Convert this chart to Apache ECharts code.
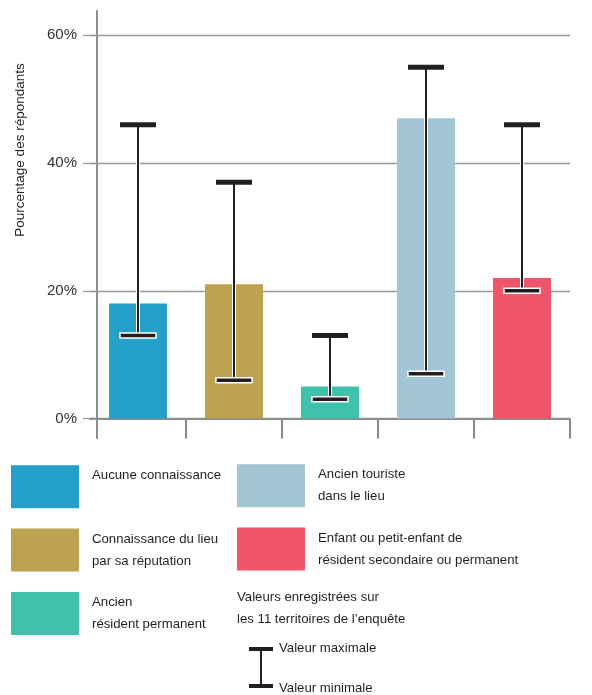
<!DOCTYPE html>
<html>
<head>
<meta charset="utf-8">
<script src="https://cdn.jsdelivr.net/npm/echarts@6/dist/echarts.min.js"></script>
<style>html,body{margin:0;padding:0;background:#fff}#c{width:592px;height:695px}</style>
</head>
<body>
<div id="c"></div>
<script>
const categories = ['Aucune connaissance', 'Connaissance du lieu par sa réputation', 'Ancien résident permanent', 'Ancien touriste dans le lieu', 'Enfant ou petit-enfant de résident secondaire ou permanent'];
const legendLabels = ['Aucune connaissance\n ', 'Connaissance du lieu\npar sa réputation', 'Ancien\nrésident permanent', 'Ancien touriste\ndans le lieu', 'Enfant ou petit-enfant de\nrésident secondaire ou permanent'];
const values = [18, 21, 5, 47, 22];
const minValues = [13, 6, 3, 7, 20];
const maxValues = [46, 37, 13, 55, 46];
const colors = ['#24a0c9', '#bea252', '#40c1ab', '#a2c6d6', '#ef566b'];
const tickValues = [0, 20, 40, 60];

const FONT = '"Liberation Sans", Arial, sans-serif';
const LFS = 13.2;
const TXT = '#231f20';

const chart = echarts.init(document.getElementById('c'), null, {renderer: 'canvas'});

const barSeries = categories.map((name, i) => ({
  type: 'bar',
  name: name,
  data: values.map((v, j) => (j === i ? v : '-')),
  barWidth: 58,
  barGap: '-100%',
  itemStyle: {color: colors[i]},
  z: 2
}));

const errSeries = {
  type: 'custom',
  name: 'err',
  z: 5,
  data: categories.map((c, i) => [i, minValues[i], maxValues[i]]),
  renderItem: function (params, api) {
    const x = api.value(0);
    const lo = api.coord([x, api.value(1)]);
    const hi = api.coord([x, api.value(2)]);
    const cx = lo[0];
    const capW = 36, capH = 5, lw = 3;
    return {
      type: 'group',
      children: [
        {type: 'rect', shape: {x: cx - lw / 2, y: hi[1], width: lw, height: lo[1] - hi[1]},
          style: {fill: TXT, stroke: '#ffffff', lineWidth: 1}},
        {type: 'rect', shape: {x: cx - capW / 2, y: hi[1] - capH / 2, width: capW, height: capH},
          style: {fill: TXT}},
        {type: 'rect', shape: {x: cx - capW / 2, y: lo[1] - capH / 2, width: capW, height: capH},
          style: {fill: TXT, stroke: '#ffffff', lineWidth: 1.5}}
      ]
    };
  }
};

const legendCommon = {
  orient: 'vertical',
  padding: 0,
  itemWidth: 68,
  itemHeight: 43,
  itemGap: 20,
  icon: 'rect',
  selectedMode: false,
  textStyle: {fontFamily: FONT, fontSize: LFS, lineHeight: 21.7, color: TXT, padding: [0, 0, 0, 8]},
  formatter: function (name) { return legendLabels[categories.indexOf(name)]; }
};

chart.setOption({
  animation: false,
  backgroundColor: '#ffffff',
  grid: {left: 90, right: 22, top: 11, bottom: 256.7, containLabel: false},
  xAxis: {
    type: 'category',
    data: categories,
    boundaryGap: true,
    axisLine: {show: true, onZero: true, lineStyle: {color: '#8c8c8c', width: 2}},
    axisTick: {show: true, length: 20, inside: false, interval: function (i) { return i !== 0; },
      lineStyle: {color: '#8c8c8c', width: 2}},
    axisLabel: {show: false},
    splitLine: {show: false}
  },
  yAxis: {
    type: 'value',
    min: -3.1,
    max: 63.8,
    offset: -7,
    axisLine: {show: true, lineStyle: {color: '#8c8c8c', width: 2}},
    axisTick: {show: true, customValues: tickValues, length: 14, lineStyle: {color: '#999999', width: 1.3}},
    axisLabel: {show: true, customValues: tickValues, margin: 20, fontSize: 15, fontFamily: FONT, color: '#333333',
      formatter: function (v) { return v + '%'; }},
    splitLine: {show: true, lineStyle: {color: '#999999', width: 1.3}}
  },
  legend: [
    Object.assign({}, legendCommon, {left: 11, top: 465, data: categories.slice(0, 3)}),
    Object.assign({}, legendCommon, {left: 237, top: 464, data: categories.slice(3)})
  ],
  graphic: [
    {type: 'text', x: 20, y: 150, rotation: Math.PI / 2,
      style: {text: 'Pourcentage des répondants', fontFamily: FONT, fontSize: 13.5, fill: TXT, align: 'center', verticalAlign: 'middle'}},
    {type: 'text', x: 237, y: 586,
      style: {text: 'Valeurs enregistrées sur\nles 11 territoires de l’enquête', fontFamily: FONT, fontSize: LFS, lineHeight: 22, fill: TXT, align: 'left', verticalAlign: 'top'}},
    {type: 'rect', shape: {x: 260, y: 649, width: 2, height: 37}, style: {fill: TXT}},
    {type: 'rect', shape: {x: 249, y: 647, width: 24, height: 4}, style: {fill: TXT}},
    {type: 'rect', shape: {x: 249, y: 684, width: 24, height: 4}, style: {fill: TXT}},
    {type: 'text', x: 279, y: 648, style: {text: 'Valeur maximale', fontFamily: FONT, fontSize: LFS, fill: TXT, align: 'left', verticalAlign: 'middle'}},
    {type: 'text', x: 279, y: 688, style: {text: 'Valeur minimale', fontFamily: FONT, fontSize: LFS, fill: TXT, align: 'left', verticalAlign: 'middle'}}
  ],
  series: barSeries.concat([errSeries])
});
</script>
</body>
</html>
